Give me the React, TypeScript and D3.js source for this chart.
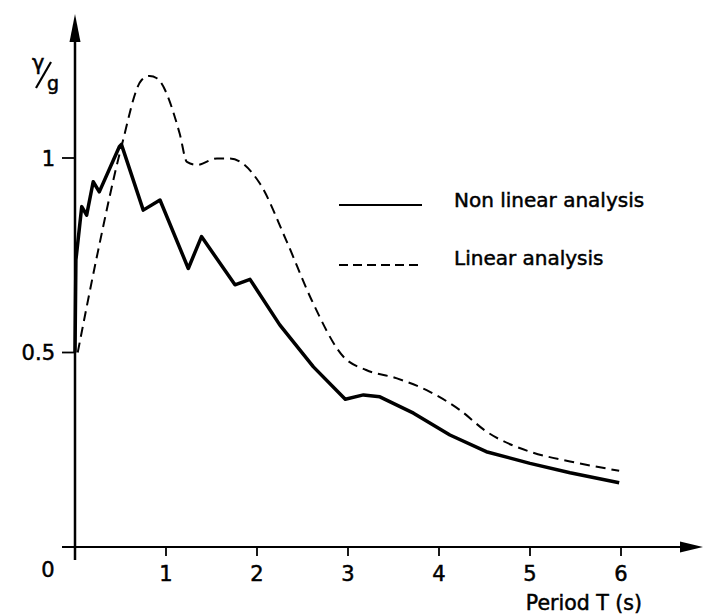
import React from "react";
import * as d3 from "d3";

const nonLinearT = [0.0, 0.01, 0.074, 0.128, 0.2, 0.267, 0.487, 0.51, 0.75, 0.934, 1.245, 1.39, 1.758, 1.923, 2.25, 2.62, 2.97, 3.17, 3.35, 3.72, 4.12, 4.52, 5.0, 5.44, 5.98];
const nonLinearY = [0.5, 0.738, 0.875, 0.853, 0.939, 0.913, 1.029, 1.035, 0.866, 0.892, 0.716, 0.798, 0.674, 0.688, 0.571, 0.463, 0.38, 0.391, 0.386, 0.344, 0.288, 0.245, 0.215, 0.191, 0.165];

const linearT = [0.03, 0.24, 0.51, 0.73, 0.82, 0.9, 1.15, 1.23, 1.34, 1.56, 1.7, 2.03, 2.32, 2.6, 2.95, 3.2, 3.53, 3.9, 4.23, 4.52, 5.0, 5.44, 5.98];
const linearY = [0.5, 0.746, 1.029, 1.2, 1.211, 1.205, 1.063, 0.99, 0.982, 0.999, 0.999, 0.935, 0.789, 0.635, 0.489, 0.455, 0.434, 0.399, 0.352, 0.297, 0.245, 0.22, 0.196];

const xTicks = [1, 2, 3, 4, 5, 6];
const yTicks = [0.5, 1];
const yTickLabels = ["0.5", "1"];
const legendLabels = ["Non linear analysis", "Linear analysis"];

const FONT = "'DejaVu Sans', sans-serif";
const txt = { fontFamily: FONT, fill: "#000", stroke: "#000", strokeWidth: 0.5 };

export default function App() {
  const x = d3.scaleLinear().domain([0, 6]).range([75, 621]);
  const y = d3.scaleLinear().domain([0, 1]).range([547, 158]);

  const solidData: [number, number][] = nonLinearT.map((t, i) => [t, nonLinearY[i]]);
  const dashedData: [number, number][] = linearT.map((t, i) => [t, linearY[i]]);

  const solidPath =
    d3
      .line<[number, number]>()
      .x((d) => x(d[0]))
      .y((d) => y(d[1]))
      .curve(d3.curveLinear)(solidData) || "";
  const dashedPath =
    d3
      .line<[number, number]>()
      .x((d) => x(d[0]))
      .y((d) => y(d[1]))
      .curve(d3.curveMonotoneX)(dashedData) || "";

  return (
    <svg
      width={703}
      height={615}
      style={{ position: "absolute", left: 0, top: 0, background: "#fff" }}
    >
      {/* Axes */}
      <line x1={75} y1={560} x2={75} y2={35} stroke="#000" strokeWidth={2.5} />
      <path d="M75,14 L69.5,42 L80.5,42 Z" fill="#000" />
      <line x1={62} y1={547} x2={685} y2={547} stroke="#000" strokeWidth={2.2} />
      <path d="M703,547 L680,541.5 L680,552.5 Z" fill="#000" />

      {xTicks.map((t) => (
        <g key={t}>
          <line x1={x(t)} y1={547} x2={x(t)} y2={556} stroke="#000" strokeWidth={1.8} />
          <text x={x(t)} y={581} textAnchor="middle" fontSize={21} {...txt}>
            {t}
          </text>
        </g>
      ))}
      {yTicks.map((v, i) => (
        <g key={v}>
          <line x1={62} y1={y(v)} x2={75} y2={y(v)} stroke="#000" strokeWidth={1.8} />
          <text x={55} y={y(v) + 7.5} textAnchor="end" fontSize={21} {...txt}>
            {yTickLabels[i]}
          </text>
        </g>
      ))}
      <text x={48} y={577} textAnchor="middle" fontSize={21} {...txt}>
        0
      </text>

      {/* Axis titles */}
      <text x={642} y={610} textAnchor="end" fontSize={20.5} {...txt}>
        Period T (s)
      </text>
      <text x={32} y={70} fontSize={21} {...txt}>
        γ
      </text>
      <line x1={36} y1={88} x2={51} y2={62} stroke="#000" strokeWidth={2.2} />
      <text x={47} y={90} fontSize={19} {...txt}>
        g
      </text>

      {/* Curves */}
      <path d={dashedPath} fill="none" stroke="#000" strokeWidth={2} strokeDasharray="10,6" />
      <path d={solidPath} fill="none" stroke="#000" strokeWidth={3.5} strokeLinejoin="round" />

      {/* Legend */}
      <line x1={339} y1={205} x2={422} y2={205} stroke="#000" strokeWidth={2.2} />
      <text x={454} y={207} fontSize={20} {...txt}>
        {legendLabels[0]}
      </text>
      <line x1={339} y1={265} x2={422} y2={265} stroke="#000" strokeWidth={2} strokeDasharray="9,5" />
      <text x={454} y={265} fontSize={20} {...txt}>
        {legendLabels[1]}
      </text>
    </svg>
  );
}
